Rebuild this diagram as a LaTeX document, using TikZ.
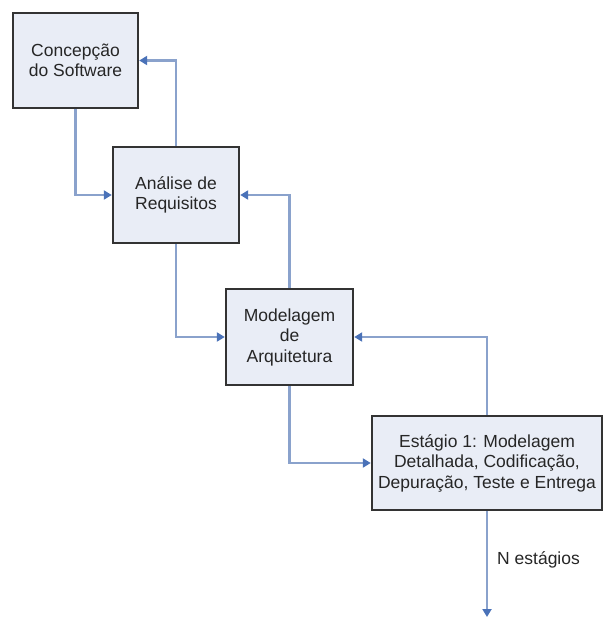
\documentclass[tikz,border=0pt]{standalone}
\usepackage{fontspec}
\setmainfont{Liberation Sans}
\usetikzlibrary{arrows.meta}
\definecolor{boxfill}{HTML}{E9EDF6}
\definecolor{boxline}{HTML}{333333}
\definecolor{linkline}{HTML}{8AA2CC}
\definecolor{linktip}{HTML}{4A72B8}
\begin{document}
\begin{tikzpicture}[x=1pt,y=-1pt,
  phase/.style={draw=boxline, line width=2.4pt, fill=boxfill, align=center,
    inner sep=0pt, font=\fontsize{17.5}{20.5}\selectfont, text=black!85},
  link/.style={draw=linkline, line width=2.4pt,
    -{Triangle[length=8pt,width=9pt,color=linktip]}}]
\useasboundingbox (0,0) rectangle (606,621);
\node[phase, minimum width=125pt, minimum height=95pt] (conc) at (75.5,60.5) {Concepção\\do Software};
\node[phase, minimum width=126pt, minimum height=96pt] (anal) at (176,195) {Análise de\\Requisitos};
\node[phase, minimum width=127pt, minimum height=96pt] (arq) at (289.5,337) {Modelagem\\de\\Arquitetura};
\node[phase, minimum width=230pt, minimum height=94pt] (est) at (487,463) {Estágio 1: Modelagem\\Detalhada, Codificação,\\Depuração, Teste e Entrega};
\coordinate (fim) at (487,617);
% forward flow: each phase feeds the next
\draw[link] (conc.south) |- (anal.west);
\draw[link] (anal.south) |- (arq.west);
\draw[link] (arq.south) |- (est.west);
% feedback to the previous phase
\draw[link] (anal.north) |- (conc.east);
\draw[link] (arq.north) |- (anal.east);
\draw[link] (est.north) |- (arq.east);
% further stages
\draw[link] (est.south) -- (fim);
\node[anchor=west, font=\fontsize{17.5}{20.5}\selectfont, text=black!85, inner sep=0pt] (nst) at (497,560) {N estágios};
\end{tikzpicture}
\end{document}
